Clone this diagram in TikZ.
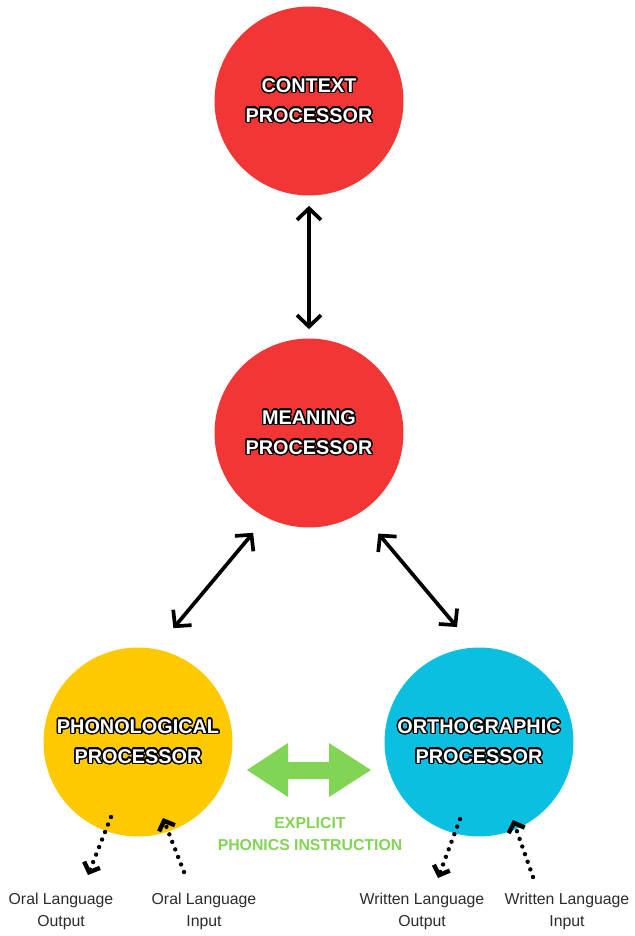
\documentclass[tikz,border=0pt]{standalone}
\usepackage{fontspec}
\setmainfont{Liberation Sans}
\usepackage{contour}
\usepackage{tikz}
\usetikzlibrary{arrows.meta}
\contourlength{0.75pt}
\contournumber{24}
\newcommand{\outl}[1]{\contour{black}{#1}}
\definecolor{fftttt}{rgb}{0.95,0.21,0.21}
\definecolor{ffccqq}{rgb}{1.,0.79,0.}
\definecolor{qqccee}{rgb}{0.04,0.75,0.88}
\definecolor{88cc55}{rgb}{0.51,0.83,0.33}
\definecolor{tttttt}{rgb}{0.17,0.17,0.17}
\tikzstyle{proc}=[circle,inner sep=0pt,minimum size=3.78cm,align=center,text=white,font=\fontsize{11.3}{17}\selectfont\bfseries]
\tikzstyle{link}=[<->,line width=2.1pt]
\tikzstyle{flow}=[-{Straight Barb[length=1.6mm,width=3.4mm]},line width=2.5pt,dash pattern=on 0pt off 4.6pt]
\tikzstyle{io}=[align=center,text=tttttt,font=\fontsize{9}{12.5}\selectfont]

\begin{document}
\begin{tikzpicture}[line cap=round,line join=round,>={Straight Barb[length=2.3mm,width=4.8mm]},x=0.02cm,y=-0.02cm]
\useasboundingbox (0,0) rectangle (635,936);
\node[proc,fill=fftttt] (context) at (309,101) {\outl{CONTEXT}\\\outl{PROCESSOR}};
\node[proc,fill=fftttt] (meaning) at (309,433) {\outl{MEANING}\\\outl{PROCESSOR}};
\node[proc,fill=ffccqq] (phono) at (138,742) {\outl{PHONOLOGICAL}\\\outl{PROCESSOR}};
\node[proc,fill=qqccee] (ortho) at (479,742) {\outl{ORTHOGRAPHIC}\\\outl{PROCESSOR}};

\draw [link,shorten <=0.2cm,shorten >=0.18cm] (context) -- (meaning);
\draw [link,shorten <=0.4cm,shorten >=0.54cm] (meaning.243) -- (phono.79);
\draw [link,shorten <=0.55cm,shorten >=0.53cm] (meaning.-57) -- (ortho.93);

\fill [color=88cc55] (247,770) -- (288,743) -- (288,762) -- (329,762) -- (329,743) -- (371,770) -- (329,797) -- (329,779) -- (288,779) -- (288,797) -- cycle;
\node[align=center,text=88cc55,font=\fontsize{9}{13}\selectfont\bfseries] (instr) at (310,834) {EXPLICIT\\PHONICS INSTRUCTION};

\coordinate (oralOutA) at (111,817);
\coordinate (oralOutB) at (88,875);
\coordinate (oralInA) at (184,872);
\coordinate (oralInB) at (163,818);
\coordinate (writOutA) at (460,819);
\coordinate (writOutB) at (438,878);
\coordinate (writInA) at (533,877);
\coordinate (writInB) at (513,820);
\draw [flow] (oralOutA) -- (oralOutB);
\draw [flow] (oralInA) -- (oralInB);
\draw [flow] (writOutA) -- (writOutB);
\draw [flow] (writInA) -- (writInB);

\node[io] (oralOut) at (61,911) {Oral Language\\Output};
\node[io] (oralIn) at (204,911) {Oral Language\\Input};
\node[io] (writOut) at (422,911) {Written Language\\Output};
\node[io] (writIn) at (567,911) {Written Language\\Input};
\end{tikzpicture}
\end{document}
